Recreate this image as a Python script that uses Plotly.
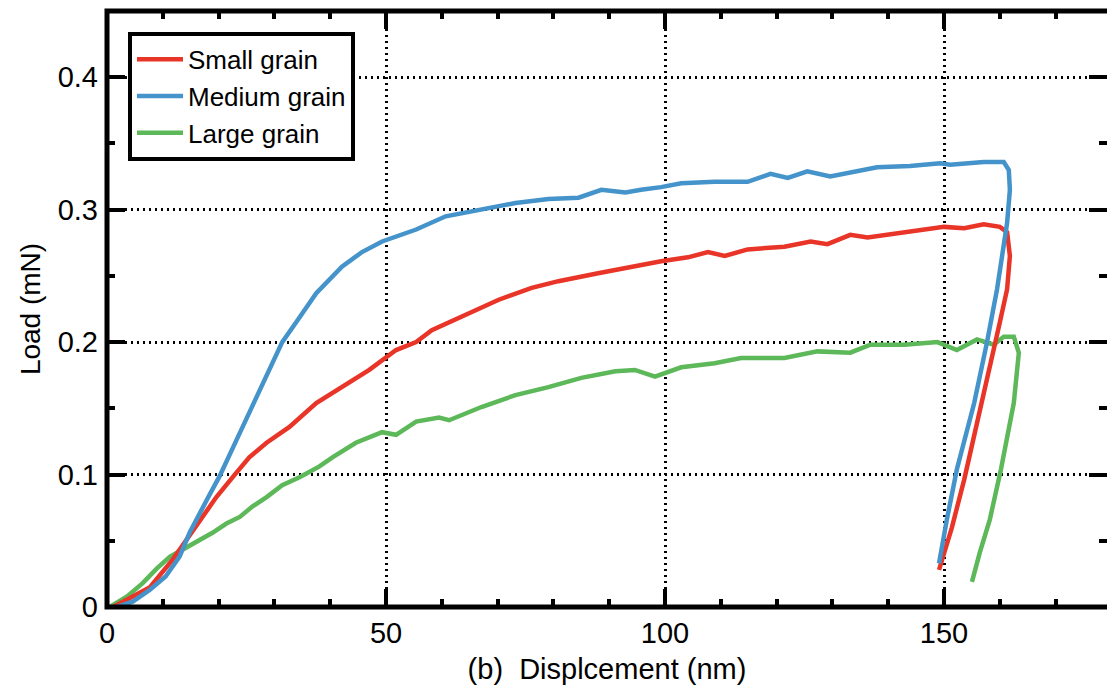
import plotly.graph_objects as go

# ---- data ----
small_x = [1.1, 4.6, 7.7, 11.8, 14.3, 16.6, 19.6, 22.9, 25.5, 28.6, 32.7, 37.5, 43.4, 47.0,
           51.8, 55.4, 58.2, 61.3, 64.3, 70.2, 76.1, 80.9, 88.0, 92.9, 99.3, 104.1, 107.7,
           110.7, 114.8, 121.4, 126.1, 129.1, 133.2, 136.3, 145.2, 150.0, 153.6, 157.1, 160.0,
           161.3, 161.8, 161.3, 160.0, 158.9, 156.6, 153.6, 151.4, 149.6, 149.1]
small_y = [0.000, 0.008, 0.015, 0.036, 0.051, 0.066, 0.083, 0.100, 0.113, 0.124, 0.136, 0.154,
           0.169, 0.179, 0.194, 0.200, 0.209, 0.215, 0.221, 0.232, 0.241, 0.246, 0.252, 0.256,
           0.261, 0.264, 0.268, 0.265, 0.270, 0.272, 0.276, 0.274, 0.281, 0.279, 0.284, 0.287,
           0.286, 0.289, 0.287, 0.283, 0.265, 0.240, 0.215, 0.194, 0.151, 0.096, 0.060, 0.033,
           0.028]

medium_x = [1.8, 4.6, 7.7, 10.5, 13.0, 14.8, 17.9, 20.2, 23.2, 25.5, 28.6, 31.4, 33.9, 37.5,
            42.1, 45.7, 49.3, 55.4, 60.7, 67.1, 73.2, 79.1, 84.5, 88.6, 92.9, 95.7, 99.3,
            102.9, 108.9, 114.8, 118.9, 122.0, 125.5, 129.6, 133.9, 138.0, 143.9, 149.3, 151.1,
            157.1, 160.7, 161.6, 161.8, 161.3, 159.5, 157.7, 155.4, 152.3, 150.5, 149.1]
medium_y = [0.000, 0.004, 0.013, 0.023, 0.038, 0.056, 0.081, 0.099, 0.126, 0.147, 0.174, 0.200,
            0.215, 0.237, 0.257, 0.268, 0.276, 0.285, 0.295, 0.300, 0.305, 0.308, 0.309, 0.315,
            0.313, 0.315, 0.317, 0.320, 0.321, 0.321, 0.327, 0.324, 0.329, 0.325, 0.329, 0.332,
            0.333, 0.335, 0.334, 0.336, 0.336, 0.330, 0.315, 0.290, 0.240, 0.200, 0.154, 0.104,
            0.066, 0.033]

large_x = [0.5, 3.6, 6.4, 8.9, 11.3, 13.0, 14.8, 16.6, 18.9, 21.4, 23.8, 26.1, 28.6, 31.4,
           34.5, 38.0, 40.4, 44.6, 49.3, 51.8, 55.4, 59.5, 61.3, 67.1, 73.2, 79.1, 85.0, 91.1,
           94.6, 98.2, 102.9, 108.9, 113.6, 115.4, 121.4, 127.3, 133.2, 136.8, 142.9, 148.8,
           152.3, 155.9, 158.9, 160.7, 162.5, 163.4, 162.5, 160.2, 158.2, 156.4, 155.0]
large_y = [0.000, 0.008, 0.018, 0.029, 0.038, 0.042, 0.047, 0.051, 0.056, 0.063, 0.068, 0.076,
           0.083, 0.092, 0.098, 0.106, 0.113, 0.124, 0.132, 0.130, 0.140, 0.143, 0.141, 0.151,
           0.160, 0.166, 0.173, 0.178, 0.179, 0.174, 0.181, 0.184, 0.188, 0.188, 0.188, 0.193,
           0.192, 0.198, 0.198, 0.200, 0.194, 0.202, 0.198, 0.204, 0.204, 0.192, 0.154, 0.104,
           0.066, 0.041, 0.019]

x_major = [0, 50, 100, 150]
x_labels = ["0", "50", "100", "150"]
y_major = [0, 0.1, 0.2, 0.3, 0.4]
y_labels = ["0", "0.1", "0.2", "0.3", "0.4"]

RED = "rgb(233,52,40)"
BLUE = "rgb(68,147,202)"
GREEN = "rgb(92,184,88)"
FONT = "Liberation Sans, Arial, Helvetica, sans-serif"

fig = go.Figure()
fig.add_trace(go.Scatter(x=large_x, y=large_y, mode="lines", name="Large grain",
                         line=dict(color=GREEN, width=4.5), legendrank=3))
fig.add_trace(go.Scatter(x=small_x, y=small_y, mode="lines", name="Small grain",
                         line=dict(color=RED, width=4.5), legendrank=1))
fig.add_trace(go.Scatter(x=medium_x, y=medium_y, mode="lines", name="Medium grain",
                         line=dict(color=BLUE, width=4.5), legendrank=2))
# empty trace to host the mirrored (top/right) tick axes
fig.add_trace(go.Scatter(x=[], y=[], xaxis="x2", yaxis="y2", showlegend=False,
                         hoverinfo="skip"))

XR = [0, 179.2]
YR = [0, 0.45]

tick_common = dict(ticks="inside", ticklen=18, tickwidth=4, tickcolor="black",
                   showline=False, zeroline=False)

fig.update_layout(
    width=1107, height=693,
    margin=dict(l=107, r=0, t=11, b=86),
    paper_bgcolor="white", plot_bgcolor="white",
    font=dict(family=FONT, size=29, color="black"),
    xaxis=dict(range=XR, tickmode="array", tickvals=x_major, ticktext=x_labels,
               showgrid=True, gridcolor="black", gridwidth=2.5, griddash="2px,4px",
               minor=dict(dtick=10, tick0=0, ticks="inside", ticklen=8, tickwidth=4,
                          tickcolor="black", showgrid=False),
               tickfont=dict(size=29), ticklabelstandoff=6,
               title=dict(text="(b)\u00a0\u00a0Displcement (nm)", font=dict(size=29),
                          standoff=10),
               **tick_common),
    yaxis=dict(range=YR, tickmode="array", tickvals=y_major, ticktext=y_labels,
               showgrid=True, gridcolor="black", gridwidth=2.5, griddash="2px,4px",
               minor=dict(dtick=0.05, tick0=0, ticks="inside", ticklen=8, tickwidth=4,
                          tickcolor="black", showgrid=False),
               tickfont=dict(size=29), ticklabelstandoff=8,
               title=dict(text="Load (mN)", font=dict(size=28), standoff=8),
               **tick_common),
    xaxis2=dict(range=XR, overlaying="x", side="top", anchor="y2", tickmode="array",
                tickvals=x_major, showticklabels=False, showgrid=False,
                minor=dict(dtick=10, tick0=0, ticks="inside", ticklen=8, tickwidth=4,
                           tickcolor="black", showgrid=False),
                **tick_common),
    yaxis2=dict(range=YR, overlaying="y", side="right", anchor="x2", tickmode="array",
                tickvals=y_major, showticklabels=False, showgrid=False,
                minor=dict(dtick=0.05, tick0=0, ticks="inside", ticklen=8, tickwidth=4,
                           tickcolor="black", showgrid=False),
                **tick_common),
    legend=dict(x=0.021, y=0.965, xanchor="left", yanchor="top",
                bgcolor="white", bordercolor="black", borderwidth=4,
                font=dict(size=26), traceorder="normal", itemwidth=46),
    shapes=[dict(type="path", xref="paper", yref="paper",
                 path="M 1,1 L 0,1 L 0,0 L 1,0",
                 line=dict(color="black", width=5), layer="above")],
    showlegend=True,
)

fig.write_html("out.html")
